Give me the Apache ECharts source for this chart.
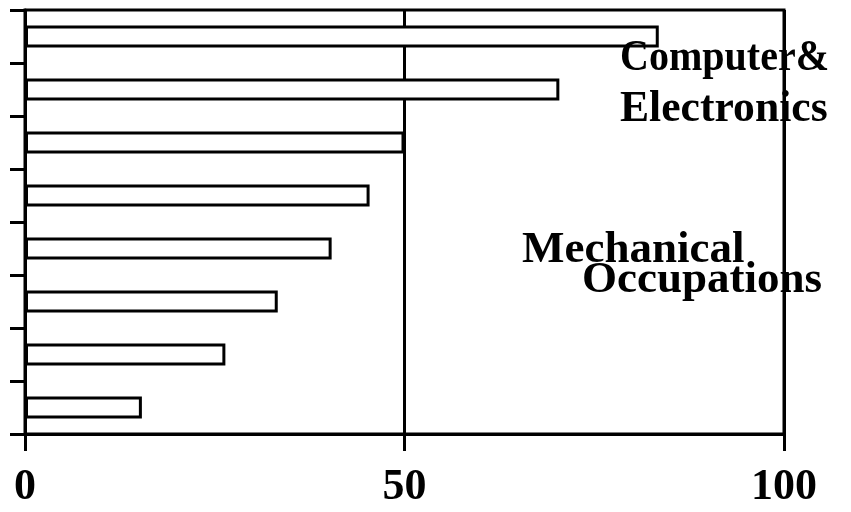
<!DOCTYPE html>
<html>
<head>
	<meta charset="utf-8">
	<title>bars</title>
	<script src="https://cdn.jsdelivr.net/npm/echarts@6/dist/echarts.min.js"></script>
	<style type="text/css">
		*{margin:0;padding:0;}
		body{background:#fff;}
		#main{width:851px;height:512px;}
	</style>
</head>
<body>
	<div id="main"></div>
	<script type="text/javascript">
		// data, top bar first
		var categories = ['c1', 'c2', 'c3', 'c4', 'c5', 'c6', 'c7', 'c8'];
		var values = [83.5, 70.4, 50, 45.4, 40.4, 33.3, 26.4, 15.4];
		var xTicks = [0, 50, 100];
		var notes = ['Computer&', 'Electronics', 'Mechanical', 'Occupations'];

		var serif = '"Liberation Serif", "Times New Roman", serif';
		var myChart = echarts.init(document.getElementById('main'));

		var option = {
			backgroundColor: '#fff',
			animation: false,
			grid: {
				left: 25, right: 67, top: 10, bottom: 78,
				show: true,
				borderColor: '#000',
				borderWidth: 3
			},
			xAxis: {
				type: 'value',
				min: xTicks[0],
				max: xTicks[xTicks.length - 1],
				interval: 50,
				axisLine: {show: true, lineStyle: {color: '#000', width: 3}},
				axisTick: {show: true, length: 17, lineStyle: {color: '#000', width: 3}},
				splitLine: {show: true, lineStyle: {color: '#000', width: 3}},
				axisLabel: {
					color: '#000',
					fontFamily: serif,
					fontWeight: 'bold',
					fontSize: 44,
					margin: 32
				}
			},
			yAxis: {
				type: 'category',
				data: categories,
				inverse: true,
				axisLine: {show: true, lineStyle: {color: '#000', width: 3}},
				axisTick: {show: true, length: 15, lineStyle: {color: '#000', width: 3}},
				axisLabel: {show: false},
				splitLine: {show: false}
			},
			series: [{
				type: 'bar',
				data: values,
				barWidth: 22,
				itemStyle: {color: '#fff', borderColor: '#000', borderWidth: 3}
			}],
			graphic: [
				{type: 'text', left: 620, top: 36, z: 100, scaleX: 0.89, style: {text: notes[0], font: 'bold 45px ' + serif, fill: '#000'}},
				{type: 'text', left: 620, top: 87, z: 100, scaleX: 0.97, style: {text: notes[1], font: 'bold 45px ' + serif, fill: '#000'}},
				{type: 'text', left: 522, top: 228, z: 100, style: {text: notes[2], font: 'bold 45px ' + serif, fill: '#000'}},
				{type: 'text', left: 582, top: 258, z: 100, style: {text: notes[3], font: 'bold 45px ' + serif, fill: '#000'}}
			]
		};

		myChart.setOption(option);
	</script>
</body>
</html>
